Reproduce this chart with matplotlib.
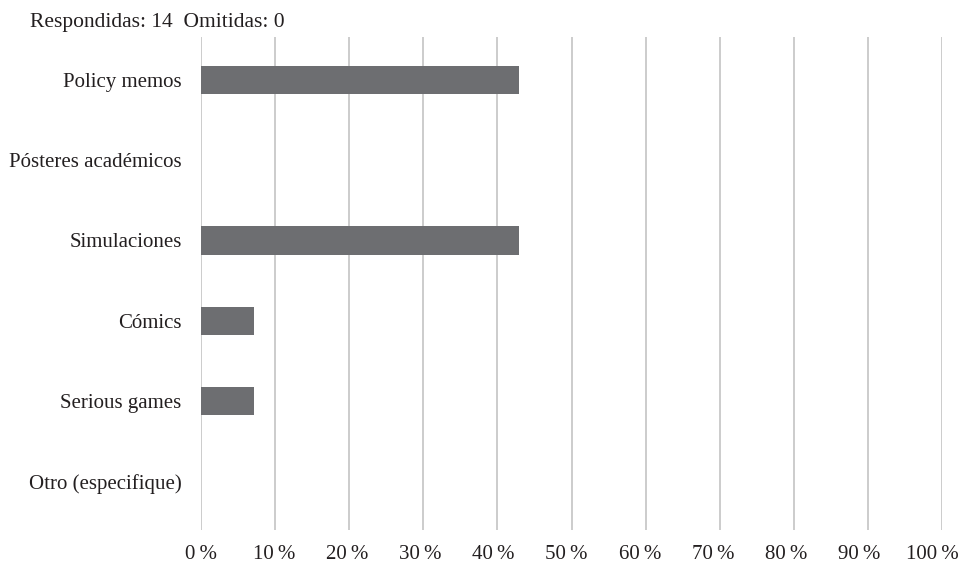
import matplotlib.pyplot as plt
import matplotlib.transforms as mtransforms
from matplotlib.ticker import FuncFormatter

categories = ['Policy memos', 'Pósteres académicos', 'Simulaciones',
              'Cómics', 'Serious games', 'Otro (especifique)']
percent = [42.9, 0, 42.9, 7.1, 7.1, 0]
ticks = [0, 10, 20, 30, 40, 50, 60, 70, 80, 90, 100]

plt.rcParams['font.family'] = ['Liberation Serif', 'DejaVu Serif']

fig = plt.figure(figsize=(9.63, 5.63), dpi=100)
ax = fig.add_axes([201 / 963, 33 / 563, 741 / 963, 493 / 563])

ypos = list(range(len(categories)))
ax.barh(ypos, percent, height=0.35, color='#6d6e71', zorder=3)

ax.set_xlim(0, 100)
ax.set_ylim(5.6, -0.53)
ax.set_yticks(ypos)
ax.set_yticklabels(categories, fontsize=15, color='#231f20')
ax.set_xticks(ticks)
ax.xaxis.set_major_formatter(FuncFormatter(lambda v, p: f'{int(v)}\u2009%'))
ax.tick_params(axis='x', labelsize=15, colors='#231f20', length=0, pad=11)
ax.tick_params(axis='y', length=0, pad=14)
ax.grid(axis='x', color='#c8c8c8', linewidth=1.3, zorder=0)
for s in ax.spines.values():
    s.set_visible(False)

# pull the x labels a little left, more for the higher values, like the original
for i, lab in enumerate(ax.get_xticklabels()):
    shift = -0.7 * i / 72
    lab.set_transform(lab.get_transform() +
                      mtransforms.ScaledTranslation(shift, 0, fig.dpi_scale_trans))

fig.text(30 / 963, 1 - 22 / 563, 'Respondidas: 14  Omitidas: 0',
         fontsize=15.5, color='#231f20', va='center', ha='left')

fig.savefig('out.png', dpi=100)
